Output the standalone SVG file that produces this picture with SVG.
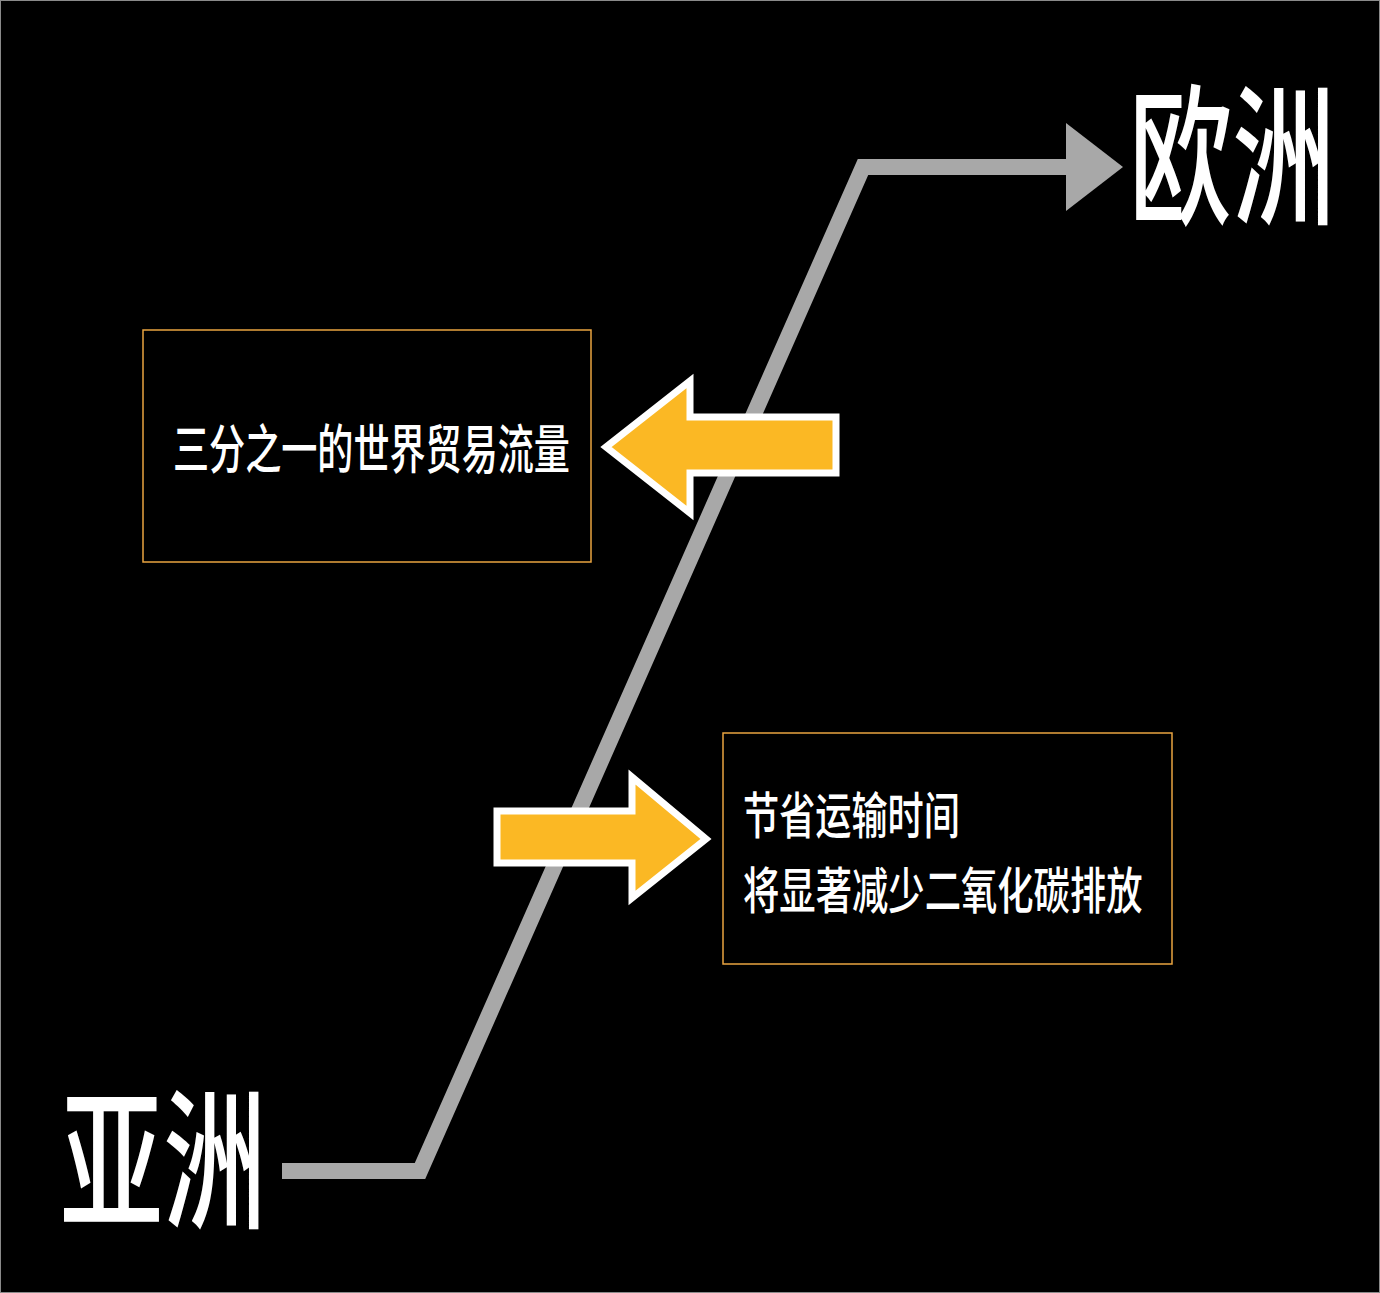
<svg xmlns="http://www.w3.org/2000/svg" width="1380" height="1293" viewBox="0 0 1380 1293">
<style>
.t{font-family:"Noto Sans CJK SC","Noto Sans",sans-serif;fill:#ffffff;font-weight:500}
.big{font-family:"Noto Sans CJK SC","Noto Sans",sans-serif;fill:#ffffff;font-weight:500}
.box{fill:none;stroke:#e9a440;stroke-width:1.5}
.ya{fill:#fbb824;stroke:#ffffff;stroke-width:7;stroke-linejoin:miter}
</style>
<rect x="0" y="0" width="1380" height="1293" fill="#000000"/>
<rect x="0.5" y="0.5" width="1379" height="1292" fill="none" stroke="#8a8a8a" stroke-width="1"/>
<g id="connectors">
<polyline points="282,1171 420,1171 863,167 1070,167" fill="none" stroke="#a8a8a8" stroke-width="16" stroke-linejoin="miter"/>
<polygon points="1066,123 1123,167 1066,211" fill="#a8a8a8"/>
</g>
<g id="node-europe">
<text class="big" transform="translate(1129,213) scale(0.86,1.265)" font-size="120" textLength="240" lengthAdjust="spacingAndGlyphs">欧洲</text>
</g>
<g id="node-asia">
<text class="big" transform="translate(60,1217) scale(0.86,1.265)" font-size="120" textLength="240" lengthAdjust="spacingAndGlyphs">亚洲</text>
</g>
<g id="node-trade">
<rect class="box" x="143" y="330" width="448" height="232"/>
<text class="t" transform="translate(173,469) scale(0.9,1.33)" font-size="40" textLength="441" lengthAdjust="spacingAndGlyphs">三分之一的世界贸易流量</text>
</g>
<g id="arrow-left">
<polygon class="ya" points="606,447 690,381 690,417 836,417 836,473 690,473 690,513"/>
</g>
<g id="arrow-right">
<polygon class="ya" points="497,811 632,811 632,777 706,839 632,898 632,863 497,863"/>
</g>
<g id="node-benefits">
<rect class="box" x="723" y="733" width="449" height="231"/>
<text class="t" transform="translate(743,834) scale(0.9,1.25)" font-size="40" textLength="241" lengthAdjust="spacingAndGlyphs">节省运输时间</text>
<text class="t" transform="translate(743,909) scale(0.9,1.25)" font-size="40" textLength="444" lengthAdjust="spacingAndGlyphs">将显著减少二氧化碳排放</text>
</g>
</svg>
